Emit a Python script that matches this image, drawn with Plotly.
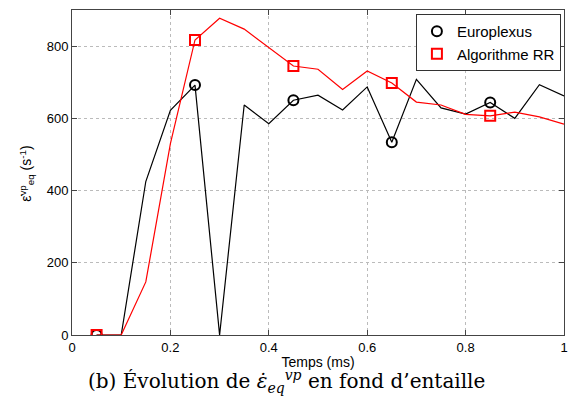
import plotly.graph_objects as go

t = [0.05, 0.10, 0.15, 0.20, 0.25, 0.30, 0.35, 0.40, 0.45, 0.50,
     0.55, 0.60, 0.65, 0.70, 0.75, 0.80, 0.85, 0.90, 0.95, 1.00]
europlexus = [0, 0, 425, 622, 692, 0, 637, 585, 650, 664,
              623, 687, 534, 708, 629, 612, 644, 600, 693, 662]
algo_rr = [0, 0, 147, 530, 817, 877, 847, 797, 745, 736,
           680, 731, 698, 645, 637, 611, 607, 617, 604, 584]
marker_idx = [0, 4, 8, 12, 16]

x_ticks = [0, 0.2, 0.4, 0.6, 0.8, 1]
x_ticklabels = ["0", "0.2", "0.4", "0.6", "0.8", "1"]
y_ticks = [0, 200, 400, 600, 800]

fig = go.Figure()
fig.add_trace(go.Scatter(x=t, y=europlexus, mode="lines",
                         line=dict(color="black", width=1.2), showlegend=False))
fig.add_trace(go.Scatter(x=t, y=algo_rr, mode="lines",
                         line=dict(color="red", width=1.2), showlegend=False))
fig.add_trace(go.Scatter(x=[t[i] for i in marker_idx], y=[europlexus[i] for i in marker_idx],
                         mode="markers", name="Europlexus",
                         marker=dict(symbol="circle-open", size=10, color="black",
                                     line=dict(width=2, color="black"))))
fig.add_trace(go.Scatter(x=[t[i] for i in marker_idx], y=[algo_rr[i] for i in marker_idx],
                         mode="markers", name="Algorithme RR",
                         marker=dict(symbol="square-open", size=10, color="red",
                                     line=dict(width=2, color="red"))))

axis_common = dict(showline=True, linecolor="#444", linewidth=1, mirror="ticks",
                   ticks="inside", ticklen=5, tickcolor="#444",
                   showgrid=True, gridcolor="#bbbbbb", griddash="dot", gridwidth=1,
                   zeroline=False, tickfont=dict(family="Liberation Sans, Arial", size=13, color="black"))

fig.update_layout(
    width=581, height=415,
    margin=dict(l=72, r=17, t=10, b=80),
    paper_bgcolor="white", plot_bgcolor="white",
    font=dict(family="Liberation Sans, Arial", color="black"),
    xaxis=dict(range=[0, 1], tickvals=x_ticks, ticktext=x_ticklabels,
               title=dict(text="Temps (ms)", font=dict(size=14), standoff=3), **axis_common),
    yaxis=dict(range=[0, 900], tickvals=y_ticks, **axis_common),
    legend=dict(x=0.699, y=0.988, xanchor="left", yanchor="top",
                bgcolor="white", bordercolor="#333", borderwidth=1,
                font=dict(size=15, color="black"), tracegroupgap=0),
    annotations=[
        dict(text="ε̇<sup>vp</sup><sub>eq</sub> (s<sup>-1</sup>)", textangle=-90,
             xref="paper", yref="paper", x=-0.092, y=0.495, showarrow=False,
             xanchor="center", yanchor="middle", font=dict(size=14, color="black")),
        dict(text="(b) Évolution de <i>ε̇</i><sub><i>eq</i></sub><sup><i>vp</i></sup> en fond d’entaille",
             xref="paper", yref="paper", x=0.436, y=-0.142, showarrow=False,
             xanchor="center", yanchor="middle",
             font=dict(family="DejaVu Serif", size=20, color="black")),
    ],
)

fig.write_html("out.html", config={"displayModeBar": False},
               post_script="document.body.style.margin='0';document.body.style.overflow='hidden';")
